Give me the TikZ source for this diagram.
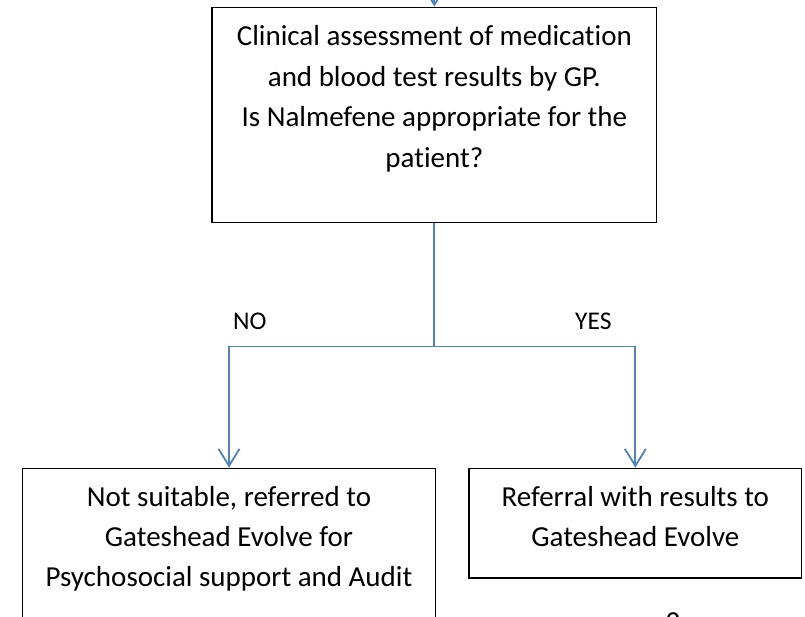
\documentclass[tikz,border=0pt]{standalone}
\usepackage{fontspec}
\setmainfont{Carlito}[Ligatures={NoCommon}]
\usetikzlibrary{arrows.meta}
\definecolor{officeblue}{HTML}{4F81BD}
\tikzset{
  flowbox/.style={draw=black, line width=1.5pt, rectangle, inner sep=0pt, fill=none},
  boxtxt/.style={font=\fontsize{29}{35}\selectfont, anchor=base, inner sep=0pt},
  lbltxt/.style={font=\fontsize{25.5}{31}\selectfont, anchor=base, inner sep=0pt},
  conn/.style={draw=officeblue, line width=1.8pt},
  connarrow/.style={conn, -{Straight Barb[length=17pt, width=21pt, line width=1.8pt]}}
}
\begin{document}
\begin{tikzpicture}[x=1pt, y=-1pt]
\useasboundingbox (0,0) rectangle (805,617);
\clip (0,0) rectangle (805,617);
\fill[white] (0,0) rectangle (805,617);

% boxes
\node[flowbox, minimum width=444.7pt, minimum height=215.4pt] (assess) at (434.35,115) {};
\node[flowbox, minimum width=412.6pt, minimum height=181.7pt] (notsuit) at (229,559.15) {};
\node[flowbox, minimum width=332.7pt, minimum height=109.7pt] (refer) at (635.35,523.15) {};

% incoming arrow at the top
\coordinate (topin) at (434.35,-20);
\draw[connarrow] (topin) -- (assess.north);

% main box text
\node[boxtxt] (m1) at (434.35,46) {Clinical assessment of medication};
\node[boxtxt] (m2) at (434.35,86.5) {and blood test results by GP.};
\node[boxtxt] (m3) at (434.35,127) {Is Nalmefene appropriate for the};
\node[boxtxt] (m4) at (434.35,167.5) {patient?};

% left box text
\node[boxtxt] (n1) at (229,506.7) {Not suitable, referred to};
\node[boxtxt] (n2) at (229,546.7) {Gateshead Evolve for};
\node[boxtxt] (n3) at (229,586.7) {Psychosocial support and Audit};

% right box text
\node[boxtxt] (r1) at (635.35,506.7) {Referral with results to};
\node[boxtxt] (r2) at (635.35,546.7) {Gateshead Evolve};

% connectors
\coordinate (split) at (434.35,346.5);
\draw[conn] (assess.south) -- (split);
\draw[connarrow] (split) -| (notsuit.north);
\draw[connarrow] (split) -| (refer.north);

% branch labels
\node[lbltxt, anchor=base west] (no) at (233,329) {NO};
\node[lbltxt, anchor=base west] (yes) at (575,329) {YES};

% page number (cut off at the bottom edge, as in the reference)
\node[boxtxt] (pagenum) at (673,631.5) {2};
\end{tikzpicture}
\end{document}
